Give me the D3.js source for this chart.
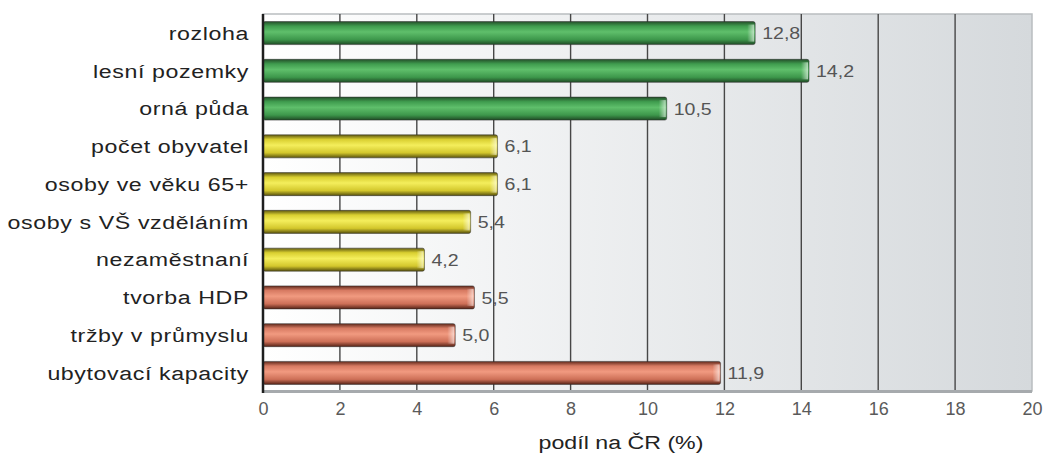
<!DOCTYPE html>
<html><head><meta charset="utf-8">
<script src="https://cdn.jsdelivr.net/npm/d3@7"></script>
<style>body{margin:0;background:#fff}svg{display:block}</style>
</head><body><svg id="c" width="1046" height="461"></svg>
<script>
const categories = ["rozloha","lesní pozemky","orná půda","počet obyvatel","osoby ve věku 65+","osoby s VŠ vzděláním","nezaměstnaní","tvorba HDP","tržby v průmyslu","ubytovací kapacity"];
const values = [12.8,14.2,10.5,6.1,6.1,5.4,4.2,5.5,5.0,11.9];
const groups = ["g","g","g","y","y","y","y","r","r","r"];
const tickValues = [0,2,4,6,8,10,12,14,16,18,20];
const axisTitle = "podíl na ČR (%)";

const FONT = "Liberation Sans, Arial, Helvetica, sans-serif";
const SX = 1.22;
const svg = d3.select("#c");
const m = {l:263, r:1032, t:14, b:391};
const x = d3.scaleLinear().domain([0,20]).range([m.l, m.r]);
const y = d3.scaleBand().domain(categories).range([m.t, m.b+1]).paddingInner(0.39).paddingOuter(0.2);

const defs = svg.append("defs");
const bg = defs.append("linearGradient").attr("id","bg").attr("x1",0).attr("x2",1).attr("y1",0).attr("y2",0);
bg.append("stop").attr("offset","0%").attr("stop-color","#ffffff");
bg.append("stop").attr("offset","100%").attr("stop-color","#d5d9dc");

const pal = {g:["#244f2a","#3f9c4e","#5fbf6b","#3d974b","#1f4a25"], y:["#5f5810","#d9cf30","#f4ee5c","#d3c72c","#57500c"], r:["#5e281b","#d77a62","#f19a80","#cd6f57","#552216"]};
Object.keys(pal).forEach(k=>{
  const gr = defs.append("linearGradient").attr("id","bar"+k).attr("x1",0).attr("x2",0).attr("y1",0).attr("y2",1);
  [[0,0],[0.2,1],[0.45,2],[0.78,3],[1,4]].forEach(([o,i])=>gr.append("stop").attr("offset",o).attr("stop-color",pal[k][i]));
  const hl = defs.append("linearGradient").attr("id","hl"+k).attr("x1",0).attr("x2",1).attr("y1",0).attr("y2",0);
  hl.append("stop").attr("offset","0%").attr("stop-color","#fff").attr("stop-opacity",0);
  hl.append("stop").attr("offset","100%").attr("stop-color","#fff").attr("stop-opacity",0.6);
});

svg.append("rect").attr("x",m.l).attr("y",m.t).attr("width",m.r-m.l).attr("height",m.b-m.t).attr("fill","url(#bg)").attr("stroke","#b9bdc0").attr("stroke-width",1.5);

svg.append("g").selectAll("line").data(tickValues.filter(d=>d>0&&d<20)).join("line")
  .attr("x1",d=>x(d)).attr("x2",d=>x(d)).attr("y1",m.t).attr("y2",m.b)
  .attr("stroke","#474747").attr("stroke-width",1.4);

svg.append("line").attr("x1",m.l).attr("x2",m.r).attr("y1",m.b+0.5).attr("y2",m.b+0.5).attr("stroke","#a6aaad").attr("stroke-width",3);

const bars = svg.append("g").selectAll("g").data(categories).join("g");
bars.append("rect").attr("x",x(0)).attr("y",d=>y(d)).attr("width",(d,i)=>x(values[i])-x(0)).attr("height",y.bandwidth())
  .attr("rx",2).attr("fill",(d,i)=>"url(#bar"+groups[i]+")").attr("stroke","#2d2d2d").attr("stroke-opacity",0.5).attr("stroke-width",1);
bars.append("rect").attr("x",(d,i)=>x(values[i])-8).attr("y",d=>y(d)+3).attr("width",7).attr("height",y.bandwidth()-6)
  .attr("fill",(d,i)=>"url(#hl"+groups[i]+")");

svg.append("g").selectAll("text").data(categories).join("text")
  .attr("transform",(d,i)=>`translate(${x(values[i])+7},${y(d)+y.bandwidth()/2}) scale(1.15,1)`).attr("dy","0.36em")
  .attr("font-family",FONT).attr("font-size",17).attr("fill","#555")
  .text((d,i)=>values[i].toFixed(1).replace(".",","));

svg.append("line").attr("x1",x(0)).attr("x2",x(0)).attr("y1",m.t).attr("y2",m.b+2).attr("stroke","#1e1e1e").attr("stroke-width",2.5);

const ax = svg.append("g").attr("transform",`translate(0,${m.b})`)
  .call(d3.axisBottom(x).tickValues(tickValues).tickSize(0).tickPadding(11).tickFormat(d3.format("d")));
ax.select(".domain").remove();
ax.selectAll("text").attr("font-family",FONT).attr("font-size",18).attr("fill","#5a5a5a");

svg.append("g").selectAll("text").data(categories).join("text")
  .attr("transform",d=>`translate(249,${y(d)+y.bandwidth()/2+1}) scale(${SX},1)`)
  .attr("text-anchor","end").attr("dy","0.3em").attr("letter-spacing",0.5)
  .attr("font-family",FONT).attr("font-size",19).attr("fill","#222").text(d=>d);

svg.append("text").attr("transform",`translate(621,449) scale(${SX},1)`).attr("text-anchor","middle")
  .attr("font-family",FONT).attr("font-size",19).attr("fill","#222").text(axisTitle);
</script></body></html>
